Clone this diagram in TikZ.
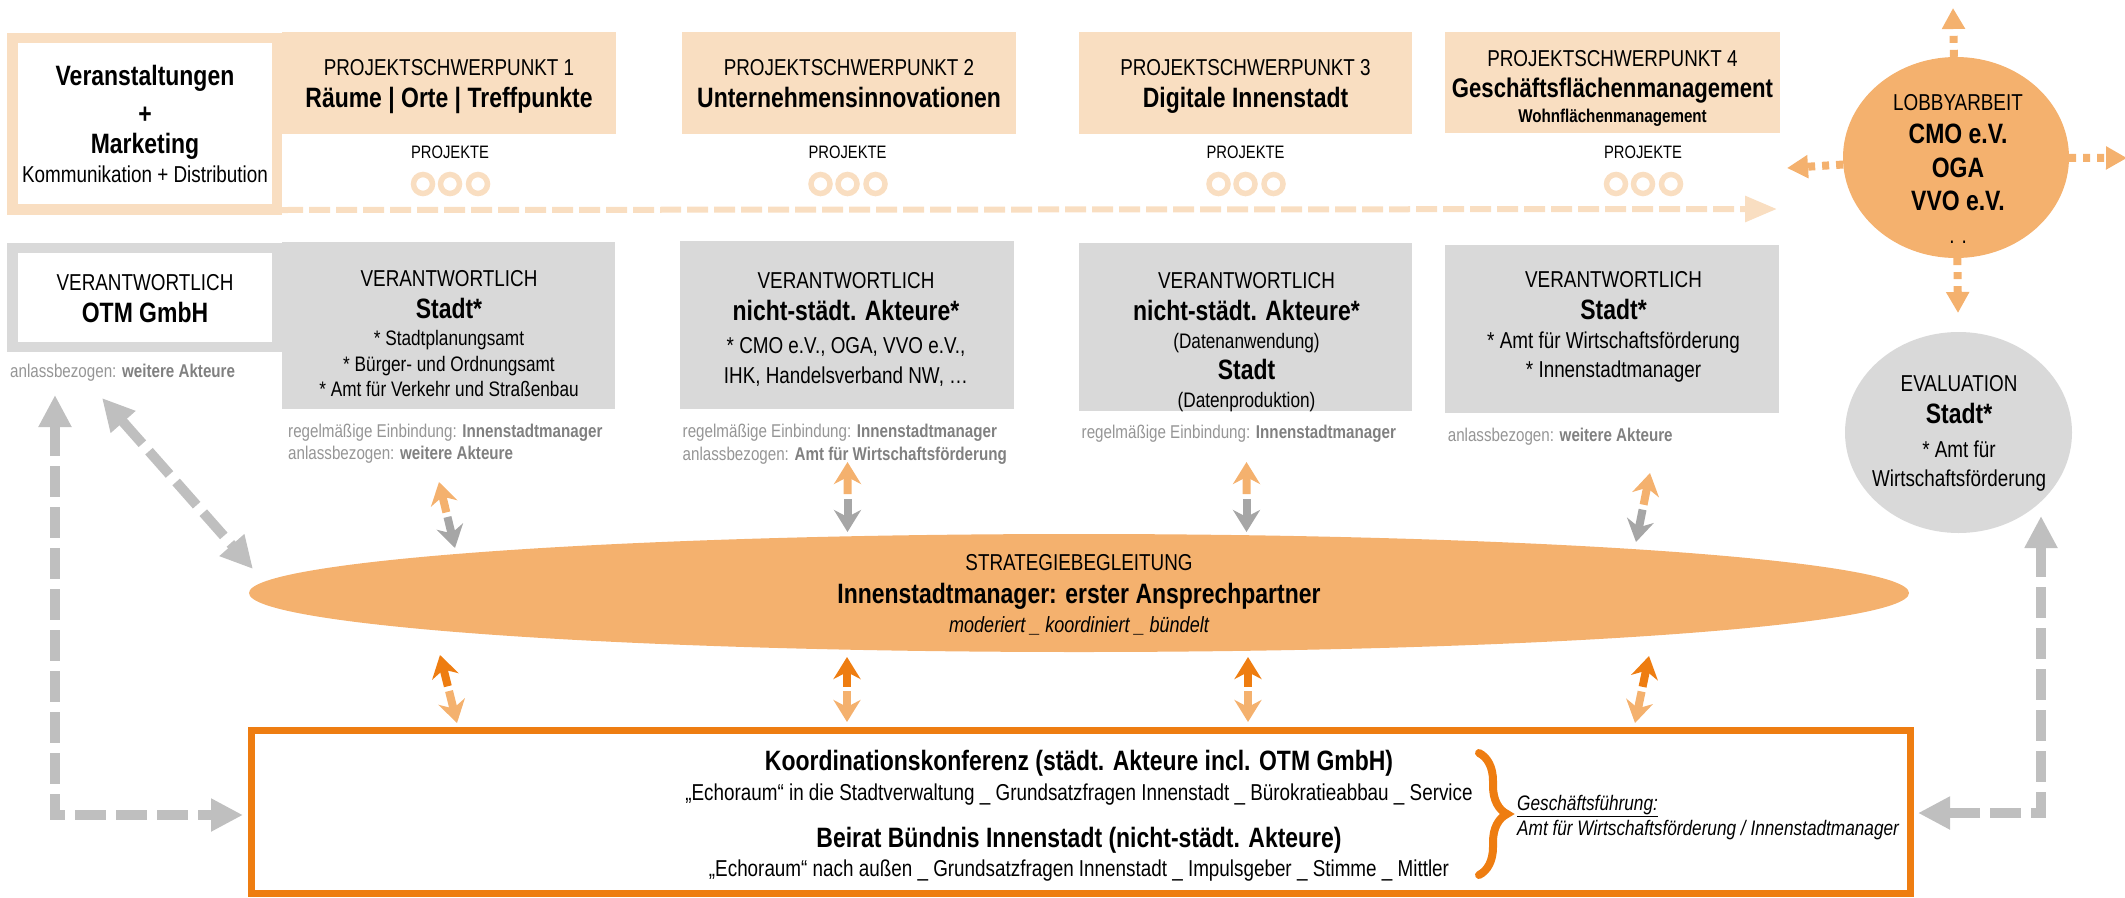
\documentclass[tikz,border=0pt]{standalone}
\usepackage{fontspec}
\setmainfont{Liberation Sans}[FakeStretch=0.82]
\usetikzlibrary{arrows.meta,shapes.geometric,calc,decorations.pathreplacing}
\definecolor{peach}{HTML}{F9DEC1}
\definecolor{boxgray}{HTML}{D9D9D9}
\definecolor{arrgray}{HTML}{BFBFBF}
\definecolor{smgray}{HTML}{A6A6A6}
\definecolor{ellor}{HTML}{F4B16E}
\definecolor{darkor}{HTML}{EE7D11}
\definecolor{txtgray}{HTML}{959595}
\definecolor{txtgrayb}{HTML}{808080}
\newcommand{\dblarr}[4]{%
  \draw[sarr,#3] ($(#1)!0.46!(#2)$) -- (#1);
  \draw[sarr,#4] ($(#1)!0.53!(#2)$) -- (#2);}
\newcommand{\gt}[2]{{\color{txtgray}#1}{\color{txtgrayb}\bfseries #2}}
\begin{document}
\begin{tikzpicture}[x=1pt,y=-1pt,
  rbox/.style={inner sep=0pt,outer sep=0pt,anchor=north west},
  txt/.style={inner sep=0pt,anchor=base,font=\fontsize{23}{27}\selectfont},
  txtb/.style={inner sep=0pt,anchor=base,font=\bfseries\fontsize{28}{32}\selectfont},
  txts/.style={inner sep=0pt,anchor=base,font=\fontsize{21}{25}\selectfont},
  txtg/.style={inner sep=0pt,anchor=base west,font=\fontsize{18.5}{22}\selectfont},
  txtp/.style={inner sep=0pt,anchor=base,font=\fontsize{18}{22}\selectfont},
  ring/.style={draw=peach,line width=5.5pt,circle,minimum size=19pt,inner sep=0pt},
  sarr/.style={line width=8pt,-{Stealth[length=22pt,width=27pt,inset=7pt]}},
  bigarr/.style={line width=10pt,arrgray,dash pattern=on 31pt off 10pt,
    {Triangle[width=31pt,length=32pt]}-{Triangle[width=31pt,length=32pt]}},
  lob/.style={line width=8pt,ellor,dash pattern=on 7pt off 7pt,-{Triangle[width=22pt,length=21pt]}}
]
\useasboundingbox (0,0) rectangle (2125,897);

% ---------- top row ----------
\node[rbox,fill=peach,minimum width=275pt,minimum height=182pt] (frameA) at (7,33) {};
\node[rbox,fill=white,minimum width=254pt,minimum height=161pt] (whiteA) at (18,43) {};
\node[rbox,fill=peach,minimum width=334pt,minimum height=102pt] (psp1) at (282,32) {};
\node[rbox,fill=peach,minimum width=334pt,minimum height=102pt] (psp2) at (682,32) {};
\node[rbox,fill=peach,minimum width=333pt,minimum height=102pt] (psp3) at (1079,32) {};
\node[rbox,fill=peach,minimum width=335pt,minimum height=101pt] (psp4) at (1445,32) {};

\node[txtb] (la) at (145,85) {Veranstaltungen};
\node[txtb] (lb) at (145,123) {+};
\node[txtb] (lc) at (145,153) {Marketing};
\node[txt] (ld) at (145,182) {Kommunikation + Distribution};

\node[txt] (p1a) at (449,75) {PROJEKTSCHWERPUNKT 1};
\node[txtb] (p1b) at (449,107) {Räume | Orte | Treffpunkte};
\node[txt] (p2a) at (849,75) {PROJEKTSCHWERPUNKT 2};
\node[txtb] (p2b) at (849,107) {Unternehmensinnovationen};
\node[txt] (p3a) at (1245.5,75) {PROJEKTSCHWERPUNKT 3};
\node[txtb] (p3b) at (1245.5,107) {Digitale Innenstadt};
\node[txt] (p4a) at (1612.5,66) {PROJEKTSCHWERPUNKT 4};
\node[txtb,font=\bfseries\fontsize{27}{31}\selectfont] (p4b) at (1612.5,97) {Geschäftsflächenmanagement};
\node[txtb,font=\bfseries\fontsize{18.5}{22}\selectfont] (p4c) at (1612.5,122) {Wohnflächenmanagement};

\foreach \n/\x in {1/450,2/847.5,3/1245.5,4/1643}{
  \node[txtp] (proj\n) at (\x,158) {PROJEKTE};
  \node[ring] (r\n a) at (\x-27,184) {};
  \node[ring] (r\n b) at (\x,184) {};
  \node[ring] (r\n c) at (\x+28,184) {};
}

\coordinate (dashS) at (282,210);
\coordinate (dashE) at (1777,209);
\draw[peach,line width=6pt,dash pattern=on 21pt off 6pt,-{Triangle[width=25pt,length=32pt]}] (dashS) -- (dashE);

% lobby
\node[ellipse,fill=ellor,minimum width=226pt,minimum height=201pt,inner sep=0pt] (lobby) at (1956,157.5) {};
\node[txt] (lo1) at (1958,110) {LOBBYARBEIT};
\node[txtb] (lo2) at (1958,143) {CMO e.V.};
\node[txtb] (lo3) at (1958,177) {OGA};
\node[txtb] (lo4) at (1958,210) {VVO e.V.};
\node[txt] (lo5) at (1958,243) {. .};
\coordinate (lobU) at (1953,8);
\coordinate (lobL) at (1787,168);
\coordinate (lobR) at (2127,158);
\coordinate (lobD) at (1958,313);
\draw[lob] (lobby) -- (lobU);
\draw[lob] (lobby) -- (lobL);
\draw[lob] (lobby) -- (lobR);
\draw[lob] (lobby) -- (lobD);

% ---------- second row ----------
\node[rbox,fill=boxgray,minimum width=275pt,minimum height=109pt] (frameB) at (7,243) {};
\node[rbox,fill=white,minimum width=254pt,minimum height=89pt] (whiteB) at (18,253) {};
\node[rbox,fill=boxgray,minimum width=333pt,minimum height=167pt] (v1) at (282,242) {};
\node[rbox,fill=boxgray,minimum width=334pt,minimum height=168pt] (v2) at (680,241) {};
\node[rbox,fill=boxgray,minimum width=333pt,minimum height=168pt] (v3) at (1079,243) {};
\node[rbox,fill=boxgray,minimum width=334pt,minimum height=168pt] (v4) at (1445,245) {};

\node[txt] (o1) at (145,290) {VERANTWORTLICH};
\node[txtb] (o2) at (145,322) {OTM GmbH};
\node[txtg] (o3) at (10,377) {\gt{anlassbezogen: }{weitere Akteure}};

\node[txt] (a1) at (449,286) {VERANTWORTLICH};
\node[txtb] (a2) at (449,318) {Stadt*};
\node[txts] (a3) at (449,345) {* Stadtplanungsamt};
\node[txts] (a4) at (449,371) {* Bürger- und Ordnungsamt};
\node[txts] (a5) at (449,396) {* Amt für Verkehr und Straßenbau};
\node[txtg] (a6) at (288,437) {\gt{regelmäßige Einbindung: }{Innenstadtmanager}};
\node[txtg] (a7) at (288,459) {\gt{anlassbezogen: }{weitere Akteure}};

\node[txt] (b1) at (846,288) {VERANTWORTLICH};
\node[txtb] (b2) at (846,320) {nicht-städt. Akteure*};
\node[txt] (b3) at (846,353) {* CMO e.V., OGA, VVO e.V.,};
\node[txt] (b4) at (846,383) {IHK, Handelsverband NW, …};
\node[txtg] (b5) at (682.5,437) {\gt{regelmäßige Einbindung: }{Innenstadtmanager}};
\node[txtg] (b6) at (682.5,460) {\gt{anlassbezogen: }{Amt für Wirtschaftsförderung}};

\node[txt] (c1) at (1246.5,288) {VERANTWORTLICH};
\node[txtb] (c2) at (1246.5,320) {nicht-städt. Akteure*};
\node[txts] (c3) at (1246.5,348) {(Datenanwendung)};
\node[txtb] (c4) at (1246.5,379) {Stadt};
\node[txts] (c5) at (1246.5,407) {(Datenproduktion)};
\node[txtg] (c6) at (1081.5,438) {\gt{regelmäßige Einbindung: }{Innenstadtmanager}};

\node[txt] (d1) at (1613.5,287) {VERANTWORTLICH};
\node[txtb] (d2) at (1613.5,319) {Stadt*};
\node[txt] (d3) at (1613.5,348) {* Amt für Wirtschaftsförderung};
\node[txt] (d4) at (1613.5,377) {* Innenstadtmanager};
\node[txtg] (d5) at (1447.6,441) {\gt{anlassbezogen: }{weitere Akteure}};

% evaluation
\node[ellipse,fill=boxgray,minimum width=227pt,minimum height=201pt,inner sep=0pt] (eval) at (1958.5,432.5) {};
\node[txt] (e1) at (1959,391) {EVALUATION};
\node[txtb] (e2) at (1959,423) {Stadt*};
\node[txt] (e3) at (1959,457) {* Amt für};
\node[txt] (e4) at (1959,486) {Wirtschaftsförderung};

% ---------- ellipse ----------
\node[ellipse,fill=ellor,minimum width=1660pt,minimum height=118pt,inner sep=0pt] (strat) at (1079,593) {};
\node[txt] (s1) at (1079,570) {STRATEGIEBEGLEITUNG};
\node[txtb] (s2) at (1079,603) {Innenstadtmanager: erster Ansprechpartner};
\node[txt,font=\itshape\fontsize{22}{26}\selectfont] (s3) at (1079,632) {moderiert \_ koordiniert \_ bündelt};

% small double arrows above
\coordinate (u1t) at (439,482);   \coordinate (u1b) at (455,548);
\coordinate (u2t) at (847.5,462); \coordinate (u2b) at (847.5,532);
\coordinate (u3t) at (1246.5,462);\coordinate (u3b) at (1246.5,532);
\coordinate (u4t) at (1650,473);  \coordinate (u4b) at (1636,542);
\dblarr{u1t}{u1b}{ellor}{smgray}
\dblarr{u2t}{u2b}{ellor}{smgray}
\dblarr{u3t}{u3b}{ellor}{smgray}
\dblarr{u4t}{u4b}{ellor}{smgray}

% small double arrows below
\coordinate (w1t) at (440,655);   \coordinate (w1b) at (457,723);
\coordinate (w2t) at (847,657);   \coordinate (w2b) at (847,722);
\coordinate (w3t) at (1248,657);  \coordinate (w3b) at (1248,722);
\coordinate (w4t) at (1649,656);  \coordinate (w4b) at (1635,723);
\dblarr{w1t}{w1b}{darkor}{ellor}
\dblarr{w2t}{w2b}{darkor}{ellor}
\dblarr{w3t}{w3b}{darkor}{ellor}
\dblarr{w4t}{w4b}{darkor}{ellor}

% ---------- bottom box ----------
\node[rbox,draw=darkor,line width=7pt,minimum width=1659pt,minimum height=163pt,anchor=north west] (konf) at (251.5,730.5) {};
\node[txtb] (k1) at (1079,770) {Koordinationskonferenz (städt. Akteure incl. OTM GmbH)};
\node[txt] (k2) at (1079,800) {„Echoraum“ in die Stadtverwaltung \_ Grundsatzfragen Innenstadt \_ Bürokratieabbau \_ Service};
\node[txtb] (k3) at (1079,847) {Beirat Bündnis Innenstadt (nicht-städt. Akteure)};
\node[txt] (k4) at (1079,876) {„Echoraum“ nach außen \_ Grundsatzfragen Innenstadt \_ Impulsgeber \_ Stimme \_ Mittler};
\coordinate (brT) at (1479,753);
\coordinate (brB) at (1479,875);
\draw[darkor,line width=8pt,line cap=round,decorate,decoration={brace,amplitude=28pt,aspect=0.5}] (brT) -- (brB);
\node[txtg,font=\itshape\fontsize{21}{25}\selectfont] (g1) at (1517,810) {\underline{Geschäftsführung:}};
\node[txtg,font=\itshape\fontsize{21}{25}\selectfont] (g2) at (1517,835) {Amt für Wirtschaftsförderung / Innenstadtmanager};

% ---------- big gray arrows ----------
\coordinate (gl1) at (55,395);
\coordinate (gl2) at (55,815);
\coordinate (gl3) at (243,815);
\draw[bigarr] (gl1) -- (gl2) -- (gl3);
\coordinate (gd1) at (102,398);
\coordinate (gd2) at (253,569);
\draw[bigarr] (gd1) -- (gd2);
\coordinate (gr1) at (2041,516);
\coordinate (gr2) at (2041,813);
\coordinate (gr3) at (1918,813);
\draw[bigarr] (gr1) -- (gr2) -- (gr3);
\end{tikzpicture}
\end{document}
